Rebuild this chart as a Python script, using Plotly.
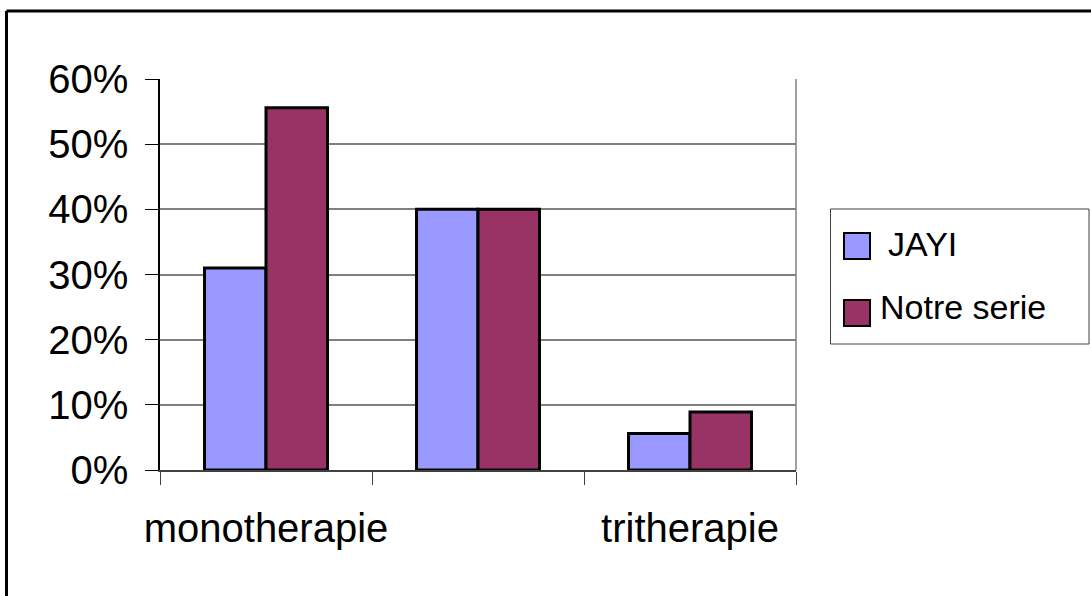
import plotly.graph_objects as go

categories = ["monotherapie", "bitherapie", "tritherapie"]
tick_labels = ["monotherapie", "", "tritherapie"]
series_names = ["JAYI", "Notre serie"]
jayi = [0.31, 0.40, 0.056]
notre = [0.556, 0.40, 0.089]
colors = ["#9999FF", "#993366"]

FONT = "Liberation Sans, Arial, sans-serif"
W, H = 1091, 596
PLOT_X0, PLOT_X1, PLOT_Y0, PLOT_Y1 = 160, 796, 79, 470
L, R, T, B = PLOT_X0, W - PLOT_X1, PLOT_Y0, H - PLOT_Y1
PW, PH = W - L - R, H - T - B

def px(x):
    return (x - L) / PW

def py(y):
    return (PLOT_Y1 - y) / PH

fig = go.Figure()
for name, vals, col in zip(series_names, [jayi, notre], colors):
    fig.add_trace(go.Bar(
        x=categories, y=vals, name=name,
        marker=dict(color=col, line=dict(color="black", width=3)),
        showlegend=False,
    ))

shapes = []
# outer chart border (top and left visible)
shapes.append(dict(type="line", xref="paper", yref="paper", x0=px(6.5), x1=px(1200),
                   y0=py(11), y1=py(11), line=dict(color="black", width=3)))
shapes.append(dict(type="line", xref="paper", yref="paper", x0=px(6.5), x1=px(6.5),
                   y0=py(11), y1=py(700), line=dict(color="black", width=3)))
# right plot border
shapes.append(dict(type="line", xref="paper", yref="paper", x0=1, x1=1, y0=0, y1=1,
                   line=dict(color="#808080", width=1.5)))
# legend box
shapes.append(dict(type="rect", xref="paper", yref="paper", x0=px(830.5), x1=px(1089),
                   y0=py(344), y1=py(209), line=dict(color="#404040", width=1), fillcolor="white"))
swatch_y = [(233, 259), (300, 326)]
text_pos = [(886, 244), (878, 307)]
annotations = []
for i, name in enumerate(series_names):
    y0, y1 = swatch_y[i]
    shapes.append(dict(type="rect", xref="paper", yref="paper", x0=px(844), x1=px(870),
                       y0=py(y1), y1=py(y0), line=dict(color="black", width=2),
                       fillcolor=colors[i]))
    tx, ty = text_pos[i]
    annotations.append(dict(xref="paper", yref="paper", x=px(tx), y=py(ty), text=name,
                            showarrow=False, xanchor="left", yanchor="middle",
                            font=dict(family=FONT, size=34, color="black")))

fig.update_layout(
    width=W, height=H,
    margin=dict(l=L, r=R, t=T, b=B, pad=0, autoexpand=False),
    paper_bgcolor="white", plot_bgcolor="white",
    barmode="group", bargap=0.42, bargroupgap=0,
    shapes=shapes, annotations=annotations,
    font=dict(family=FONT, color="black"),
)
fig.update_xaxes(
    type="category", categoryorder="array", categoryarray=categories,
    tickmode="array", tickvals=categories, ticktext=tick_labels,
    tickson="boundaries", ticks="outside", ticklen=13, tickwidth=1, tickcolor="#404040",
    showline=True, linecolor="#404040", linewidth=1.5,
    showgrid=False, tickfont=dict(family=FONT, size=40, color="black"),
    tickangle=0, automargin=False,
    ticklabelstandoff=22,
)
fig.update_yaxes(
    range=[0, 0.6], dtick=0.1, tickformat=".0%",
    ticks="outside", ticklen=13, tickwidth=1, tickcolor="black",
    showline=True, linecolor="black", linewidth=1.5,
    showgrid=True, gridcolor="#808080", gridwidth=1.5, zeroline=False,
    tickfont=dict(family=FONT, size=40, color="black"),
    automargin=False,
    ticklabelstandoff=9,
)
fig.write_html("out.html", config={"displayModeBar": False},
               post_script="document.body.style.margin='0px';")
